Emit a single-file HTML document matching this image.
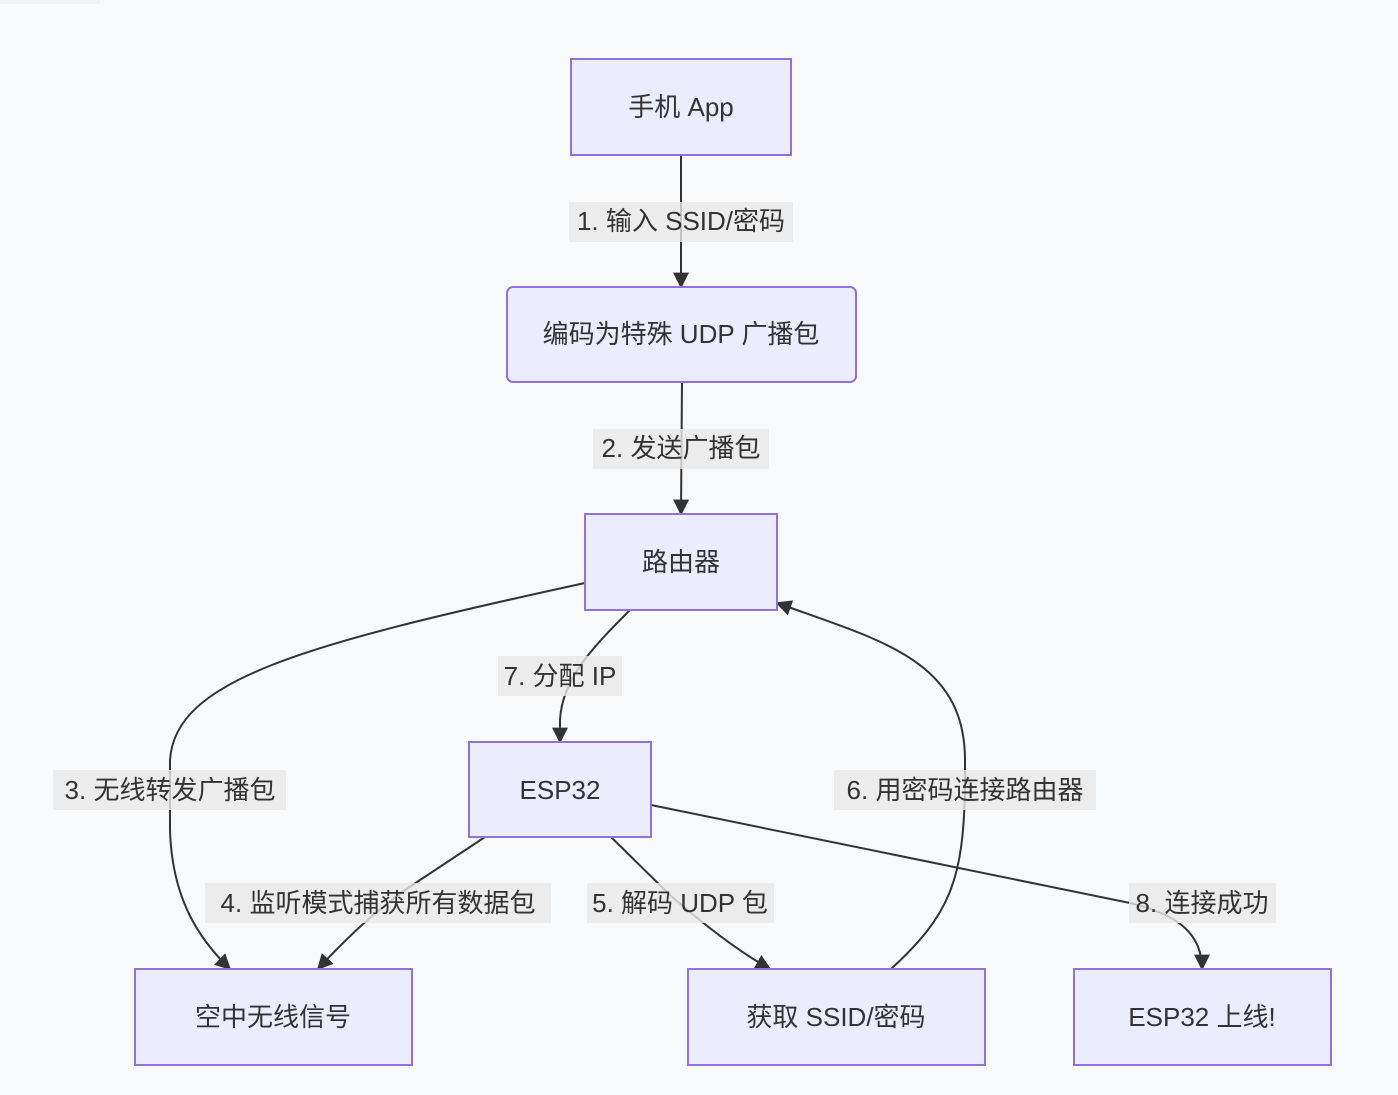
<!DOCTYPE html>
<html><head><meta charset="utf-8"><style>
html,body{margin:0;padding:0;background:#f8f9fb;}
svg{display:block;font-family:"Liberation Sans","Noto Sans CJK SC",sans-serif;}
.n{fill:#ECECFF;stroke:#9370DB;stroke-width:2;}
.e{fill:none;stroke:#333;stroke-width:2;}
.lb{fill:rgba(232,232,232,0.8);}
text{fill:#333;font-size:26px;text-anchor:middle;dominant-baseline:central;}
</style></head><body>
<svg width="1398" height="1095" viewBox="0 0 1398 1095">
<defs><marker id="a" viewBox="0 0 10 10" refX="9" refY="5" markerWidth="8" markerHeight="8" markerUnits="userSpaceOnUse" orient="auto"><path d="M0,0L10,5L0,10z" fill="#333"/></marker>
<marker id="b" viewBox="0 0 10 10" refX="9" refY="5" markerWidth="16" markerHeight="16" markerUnits="userSpaceOnUse" orient="auto"><path d="M0,0L10,5L0,10z" fill="#333"/></marker></defs>
<rect x="0" y="0" width="100" height="4" fill="#f1f2f4"/>
<!-- edges -->
<path class="e" d="M681,155 L681,287" marker-end="url(#b)"/>
<path class="e" d="M682,382 L681,514" marker-end="url(#b)"/>
<path class="e" d="M585,583 C300,645 175,680 170,760 L170,830 C172,900 200,940 230,969" marker-end="url(#b)"/>
<path class="e" d="M630,610 C590,650 562,680 560,720 L560,742" marker-end="url(#b)"/>
<path class="e" d="M485,837 L405,890 C370,915 340,945 318,969" marker-end="url(#b)"/>
<path class="e" d="M611,837 L670,895 C710,930 745,955 770,969" marker-end="url(#b)"/>
<path class="e" d="M891,969 C950,915 963,880 965,790 L965,760 C965,660 880,640 777,603" marker-end="url(#b)"/>
<path class="e" d="M651,805 L1130,903 C1180,915 1202,935 1202,969" marker-end="url(#b)"/>
<!-- nodes -->
<rect class="n" x="571" y="59" width="220" height="96"/>
<text x="681" y="107">手机 App</text>
<rect class="n" x="507" y="287" width="349" height="95" rx="6"/>
<text x="681" y="334">编码为特殊 UDP 广播包</text>
<rect class="n" x="585" y="514" width="192" height="96"/>
<text x="681" y="562">路由器</text>
<rect class="n" x="469" y="742" width="182" height="95"/>
<text x="560" y="790">ESP32</text>
<rect class="n" x="135" y="969" width="277" height="96"/>
<text x="273" y="1017">空中无线信号</text>
<rect class="n" x="688" y="969" width="297" height="96"/>
<text x="836" y="1017">获取 SSID/密码</text>
<rect class="n" x="1074" y="969" width="257" height="96"/>
<text x="1202" y="1017">ESP32 上线!</text>
<!-- labels -->
<rect class="lb" x="569" y="202" width="224" height="40"/><text x="681" y="221">1. 输入 SSID/密码</text>
<rect class="lb" x="593" y="429" width="176" height="40"/><text x="681" y="448">2. 发送广播包</text>
<rect class="lb" x="53" y="770" width="233" height="40"/><text x="170" y="790">3. 无线转发广播包</text>
<rect class="lb" x="498" y="656" width="124" height="40"/><text x="560" y="676">7. 分配 IP</text>
<rect class="lb" x="205" y="883" width="346" height="40"/><text x="378" y="903">4. 监听模式捕获所有数据包</text>
<rect class="lb" x="587" y="883" width="187" height="40"/><text x="680" y="903">5. 解码 UDP 包</text>
<rect class="lb" x="834" y="770" width="262" height="40"/><text x="965" y="790">6. 用密码连接路由器</text>
<rect class="lb" x="1129" y="883" width="147" height="40"/><text x="1202" y="903">8. 连接成功</text>
</svg>
</body></html>
